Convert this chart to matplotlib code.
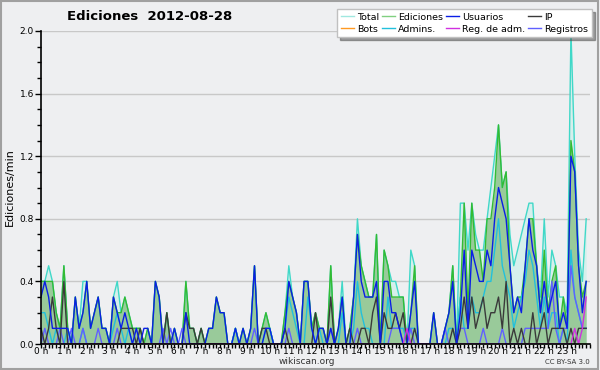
import matplotlib
matplotlib.use("Agg")
import matplotlib.pyplot as plt
import numpy as np
from matplotlib.lines import Line2D

# 10-minute bins, values in edits/min
hours = [f"{h} h" for h in range(24)]

total = [0.4,0.4,0.5,0.4,0.2,0.1, 0.5,0.1,0.0,0.3,0.1,0.4,
         0.4,0.1,0.2,0.3,0.1,0.1, 0.0,0.3,0.4,0.2,0.3,0.2,
         0.1,0.1,0.1,0.0,0.1,0.0, 0.4,0.3,0.0,0.2,0.0,0.1,
         0.0,0.0,0.4,0.1,0.1,0.0, 0.1,0.0,0.1,0.1,0.3,0.2,
         0.2,0.0,0.0,0.1,0.0,0.1, 0.0,0.1,0.5,0.0,0.1,0.2,
         0.1,0.0,0.0,0.0,0.2,0.5, 0.3,0.2,0.0,0.4,0.4,0.1,
         0.2,0.1,0.1,0.0,0.5,0.0, 0.1,0.4,0.0,0.1,0.3,0.8,
         0.5,0.4,0.3,0.3,0.7,0.0, 0.6,0.5,0.4,0.4,0.3,0.3,
         0.0,0.6,0.5,0.0,0.0,0.0, 0.0,0.2,0.0,0.0,0.1,0.2,
         0.5,0.0,0.9,0.9,0.6,0.9, 0.7,0.6,0.6,0.8,1.0,1.2,
         1.4,1.0,1.1,0.7,0.5,0.6, 0.7,0.8,0.9,0.9,0.5,0.3,
         0.8,0.3,0.6,0.5,0.3,0.3, 0.2,2.0,1.2,0.6,0.4,0.8]

ediciones = [0.4,0.4,0.4,0.4,0.2,0.1, 0.5,0.1,0.0,0.3,0.1,0.2,
             0.4,0.1,0.2,0.3,0.1,0.1, 0.0,0.3,0.2,0.2,0.3,0.2,
             0.1,0.1,0.1,0.0,0.1,0.0, 0.4,0.3,0.0,0.2,0.0,0.1,
             0.0,0.0,0.4,0.1,0.1,0.0, 0.1,0.0,0.1,0.1,0.3,0.2,
             0.2,0.0,0.0,0.1,0.0,0.1, 0.0,0.1,0.5,0.0,0.1,0.2,
             0.1,0.0,0.0,0.0,0.2,0.4, 0.3,0.2,0.0,0.4,0.4,0.1,
             0.2,0.1,0.1,0.0,0.5,0.0, 0.1,0.3,0.0,0.1,0.3,0.7,
             0.5,0.4,0.3,0.3,0.7,0.0, 0.6,0.5,0.3,0.3,0.3,0.3,
             0.0,0.2,0.5,0.0,0.0,0.0, 0.0,0.2,0.0,0.0,0.1,0.2,
             0.5,0.0,0.3,0.9,0.2,0.9, 0.6,0.6,0.4,0.8,0.8,1.0,
             1.4,1.0,1.1,0.5,0.2,0.3, 0.3,0.5,0.8,0.8,0.5,0.2,
             0.6,0.2,0.4,0.5,0.1,0.3, 0.1,1.3,1.1,0.5,0.3,0.4]

usuarios = [0.3,0.4,0.3,0.1,0.1,0.1, 0.1,0.1,0.0,0.3,0.1,0.2,
            0.4,0.1,0.2,0.3,0.1,0.1, 0.0,0.3,0.2,0.1,0.2,0.1,
            0.0,0.1,0.0,0.1,0.1,0.0, 0.4,0.3,0.0,0.0,0.0,0.1,
            0.0,0.0,0.2,0.0,0.0,0.0, 0.0,0.0,0.1,0.1,0.3,0.2,
            0.2,0.0,0.0,0.1,0.0,0.1, 0.0,0.1,0.5,0.0,0.0,0.1,
            0.1,0.0,0.0,0.0,0.1,0.4, 0.3,0.2,0.0,0.4,0.4,0.1,
            0.0,0.1,0.1,0.0,0.1,0.0, 0.1,0.3,0.0,0.0,0.3,0.7,
            0.4,0.3,0.3,0.3,0.4,0.0, 0.4,0.4,0.2,0.2,0.1,0.0,
            0.0,0.2,0.4,0.0,0.0,0.0, 0.0,0.2,0.0,0.0,0.1,0.2,
            0.4,0.0,0.2,0.6,0.1,0.6, 0.5,0.4,0.4,0.6,0.5,0.8,
            1.0,0.9,0.8,0.5,0.2,0.3, 0.2,0.5,0.8,0.6,0.5,0.2,
            0.4,0.2,0.3,0.4,0.1,0.2, 0.1,1.2,1.1,0.5,0.2,0.4]

ip = [0.1,0.0,0.1,0.3,0.1,0.0, 0.4,0.0,0.0,0.0,0.0,0.0,
      0.0,0.0,0.0,0.0,0.0,0.0, 0.0,0.0,0.0,0.1,0.1,0.1,
      0.1,0.0,0.1,0.0,0.0,0.0, 0.0,0.0,0.0,0.2,0.0,0.0,
      0.0,0.0,0.2,0.1,0.1,0.0, 0.1,0.0,0.0,0.0,0.0,0.0,
      0.0,0.0,0.0,0.0,0.0,0.0, 0.0,0.0,0.0,0.0,0.1,0.1,
      0.0,0.0,0.0,0.0,0.1,0.0, 0.0,0.0,0.0,0.0,0.0,0.0,
      0.2,0.0,0.0,0.0,0.3,0.0, 0.0,0.0,0.0,0.1,0.0,0.0,
      0.1,0.1,0.0,0.2,0.3,0.0, 0.2,0.1,0.1,0.2,0.1,0.2,
      0.0,0.0,0.1,0.0,0.0,0.0, 0.0,0.0,0.0,0.0,0.0,0.0,
      0.1,0.0,0.1,0.3,0.1,0.3, 0.1,0.2,0.3,0.1,0.2,0.2,
      0.3,0.1,0.4,0.0,0.1,0.0, 0.1,0.0,0.0,0.2,0.0,0.1,
      0.2,0.0,0.1,0.1,0.1,0.1, 0.0,0.1,0.0,0.1,0.1,0.1]

bots = [0.0] * 144

admins = [0.2,0.2,0.1,0.0,0.1,0.0, 0.0,0.1,0.0,0.0,0.0,0.1,
          0.0,0.0,0.0,0.0,0.0,0.0, 0.0,0.1,0.2,0.1,0.0,0.1,
          0.0,0.0,0.0,0.0,0.0,0.0, 0.0,0.0,0.0,0.0,0.0,0.0,
          0.0,0.0,0.0,0.0,0.0,0.0, 0.0,0.0,0.0,0.0,0.0,0.0,
          0.0,0.0,0.0,0.1,0.0,0.0, 0.0,0.0,0.0,0.0,0.0,0.1,
          0.1,0.0,0.0,0.0,0.1,0.3, 0.2,0.1,0.0,0.0,0.3,0.1,
          0.0,0.1,0.0,0.0,0.0,0.0, 0.0,0.2,0.0,0.0,0.1,0.4,
          0.2,0.1,0.1,0.0,0.0,0.0, 0.0,0.3,0.1,0.1,0.1,0.1,
          0.0,0.1,0.1,0.0,0.0,0.0, 0.0,0.0,0.0,0.0,0.0,0.1,
          0.1,0.0,0.3,0.1,0.1,0.3, 0.2,0.2,0.3,0.4,0.4,0.6,
          0.8,0.5,0.4,0.3,0.1,0.2, 0.3,0.4,0.6,0.5,0.3,0.1,
          0.3,0.1,0.2,0.2,0.0,0.1, 0.0,0.6,0.3,0.2,0.1,0.1]

reg_adm = [0.0] * 96 + [0.1] + [0.0] * 42 + [0.0,0.1,0.0,0.1,0.3]

registros = [0.0,0.1,0.0,0.0,0.0,0.1, 0.0,0.0,0.1,0.0,0.0,0.1,
             0.0,0.0,0.0,0.1,0.0,0.0, 0.0,0.0,0.1,0.0,0.0,0.0,
             0.0,0.0,0.0,0.0,0.0,0.0, 0.0,0.0,0.1,0.0,0.1,0.0,
             0.0,0.1,0.0,0.0,0.0,0.0, 0.0,0.0,0.0,0.0,0.0,0.0,
             0.0,0.0,0.0,0.0,0.0,0.0, 0.0,0.0,0.1,0.0,0.0,0.0,
             0.0,0.0,0.0,0.0,0.0,0.1, 0.0,0.0,0.0,0.0,0.0,0.0,
             0.0,0.0,0.0,0.0,0.1,0.0, 0.0,0.0,0.0,0.0,0.0,0.1,
             0.0,0.0,0.0,0.0,0.0,0.0, 0.0,0.0,0.1,0.1,0.1,0.0,
             0.0,0.1,0.0,0.0,0.0,0.0, 0.0,0.0,0.0,0.0,0.1,0.0,
             0.0,0.0,0.1,0.1,0.0,0.0, 0.0,0.0,0.1,0.0,0.0,0.0,
             0.0,0.1,0.0,0.0,0.0,0.0, 0.0,0.1,0.1,0.1,0.1,0.1,
             0.1,0.1,0.4,0.1,0.0,0.1, 0.1,0.5,0.3,0.2,0.1,0.1]

x = np.arange(len(total)) / 6.0

bg = "#eeeff1"
fig = plt.figure(figsize=(6.0, 3.7), dpi=100, facecolor=bg)
fig.patches.append(plt.Rectangle((0.002, 0.003), 0.995, 0.994, transform=fig.transFigure,
                                 fill=False, edgecolor="#a0a0a0", linewidth=1.5))
ax = fig.add_axes([41/600, 26/370, 549/600, 313/370])
ax.set_facecolor(bg)

c_total = "#40d8c8"
c_ed = "#33bb33"
c_us = "#0a1ee6"
c_ip = "#3a3a3a"
c_bots = "#ff9922"
c_adm = "#22c0dc"
c_regadm = "#d030e0"
c_reg = "#6060ff"

ax.fill_between(x, total, 0, color="#d6efec", zorder=1, linewidth=0)
ax.fill_between(x, ediciones, 0, color="#99ca9a", zorder=2, linewidth=0)

lw = 1.0
ax.plot(x, total, color=c_total, lw=lw, zorder=3)
ax.plot(x, ediciones, color=c_ed, lw=lw, zorder=3)
ax.plot(x, admins, color=c_adm, lw=lw, zorder=4)
ax.plot(x, registros, color=c_reg, lw=lw, zorder=4)
ax.plot(x, ip, color=c_ip, lw=lw, zorder=5)
ax.plot(x, usuarios, color=c_us, lw=lw, zorder=6)
ax.plot(x, reg_adm, color=c_regadm, lw=lw, zorder=6)
ax.plot(x, bots, color=c_bots, lw=lw, zorder=2)

ax.set_xlim(0, 24)
ax.set_ylim(0, 2.0)
yt = np.round(np.arange(0, 2.01, 0.4), 1)
ax.set_yticks(yt)
ax.set_yticklabels([f"{v:.1f}" for v in yt])
ax.set_yticks(np.arange(0, 2.01, 0.1), minor=True)
ax.set_xticks(np.arange(24))
ax.set_xticklabels(hours)
ax.set_xticks(np.arange(0, 24.01, 1/6), minor=True)
ax.grid(axis="y", which="major", color="#c8c8c8", linewidth=1)
ax.set_axisbelow(True)
for s in ["top", "right"]:
    ax.spines[s].set_visible(False)
ax.spines["left"].set_linewidth(1.2)
ax.spines["bottom"].set_linewidth(1.2)
ax.spines["left"].set_zorder(10)
ax.spines["bottom"].set_zorder(10)
ax.tick_params(axis="x", which="major", labelsize=6.5, length=3, width=1, pad=-0.5)
ax.tick_params(axis="y", which="major", labelsize=6.5, length=4, width=1, pad=1)
ax.tick_params(axis="both", which="minor", length=3, width=1)

fig.text(10/600, 1 - 187/370, "Ediciones/min", fontsize=8, rotation=90, ha="center", va="center")
fig.text(150/600, 1 - 17/370, "Ediciones  2012-08-28", fontsize=9.5, fontweight="bold",
         ha="center", va="center")
fig.text(307/600, 1 - 362/370, "wikiscan.org", fontsize=6.5, ha="center", va="center", color="#333333")
fig.text(590/600, 1 - 362/370, "CC BY-SA 3.0", fontsize=5, ha="right", va="center", color="#333333")

labels = ["Total", "Bots", "Ediciones", "Admins.", "Usuarios", "Reg. de adm.", "IP", "Registros"]
cols = ["#a0e8e0", c_bots, "#80d080", c_adm, c_us, c_regadm, c_ip, c_reg]
handles = [Line2D([0], [0], color=c, lw=1) for c in cols]
leg = fig.legend(handles, labels, ncol=4, loc="upper right", bbox_to_anchor=(592/600, 1 - 9/370),
                 fontsize=6.8, frameon=True, fancybox=False, shadow=True, handlelength=1.4,
                 handletextpad=0.3, columnspacing=0.3, labelspacing=0.3, borderpad=0.4,
                 borderaxespad=0)
leg.get_frame().set_edgecolor("#c0c0c0")
leg.get_frame().set_facecolor("white")
leg.set_zorder(20)

fig.savefig("out.png", dpi=100, facecolor=bg)
